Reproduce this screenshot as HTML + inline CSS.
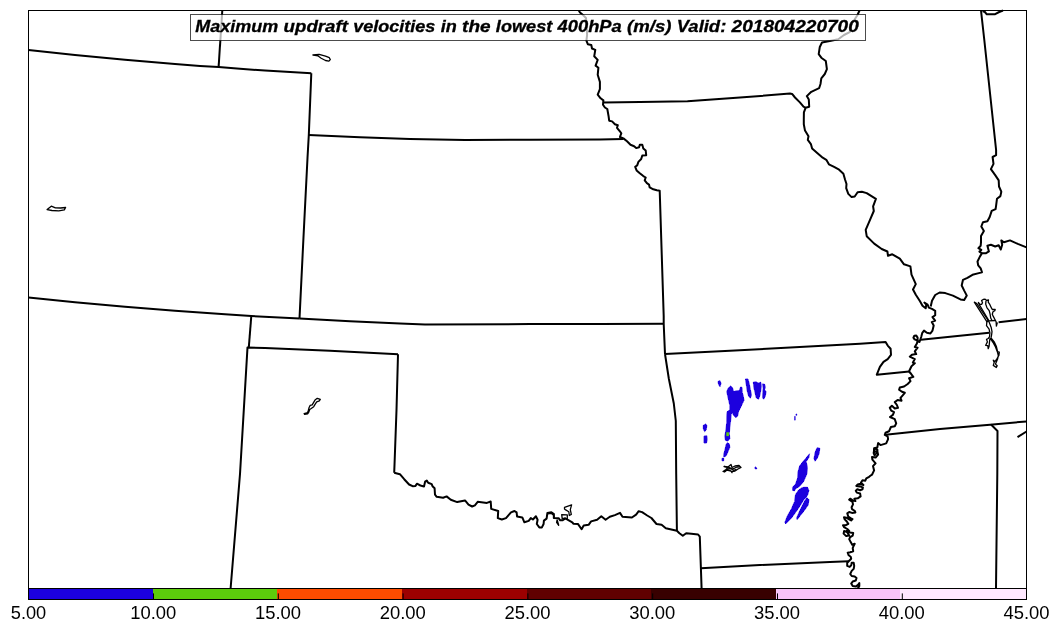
<!DOCTYPE html>
<html><head><meta charset="utf-8"><title>Maximum updraft velocities</title>
<style>
html,body{margin:0;padding:0;background:#fff;}
body{width:1060px;height:633px;position:relative;overflow:hidden;font-family:"Liberation Sans",sans-serif;}
</style></head><body>
<svg width="1060" height="633" viewBox="0 0 1060 633" style="position:absolute;left:0;top:0;will-change:transform">
<rect x="0" y="0" width="1060" height="633" fill="#fff"/>
<g fill="#1c00de" stroke="#1c00de" stroke-width="0.7" stroke-linejoin="round" shape-rendering="crispEdges">
<path d="M718.0,381.5 L720.0,380.6 L721.0,383.4 L720.0,386.8 L718.5,384.4Z"/>
<path d="M730.7,386.0 L732.4,387.4 L733.6,391.7 L735.9,390.9 L739.3,390.5 L740.6,387.0 L742.0,387.4 L742.3,392.6 L743.3,396.1 L744.0,400.4 L742.3,403.9 L740.6,407.4 L738.5,411.7 L737.6,416.1 L735.9,417.8 L733.6,415.6 L732.4,412.6 L731.2,414.3 L730.7,420.4 L729.8,427.4 L729.4,433.5 L729.8,438.7 L728.0,441.0 L725.4,440.4 L724.9,436.1 L726.0,429.1 L726.7,422.2 L726.8,415.2 L727.2,411.7 L729.8,409.7 L729.8,405.7 L728.9,401.3 L727.7,396.1 L726.8,391.7 L728.0,388.3Z"/>
<path d="M727.2,442.7 L729.4,443.9 L729.8,447.4 L728.0,451.7 L726.0,456.1 L723.7,457.0 L723.7,454.3 L724.9,450.0 L726.0,444.8Z"/>
<path d="M722.0,458.3 L723.7,458.3 L723.7,460.8 L722.0,460.8Z"/>
<path d="M745.4,379.0 L748.0,379.0 L749.3,383.9 L750.3,389.1 L751.5,395.2 L750.3,398.2 L748.6,396.1 L747.2,390.9 L746.3,384.8Z"/>
<path d="M753.3,382.2 L755.9,381.8 L758.5,383.0 L760.7,382.2 L761.4,385.7 L760.7,390.9 L759.7,396.1 L758.5,399.2 L756.2,397.8 L755.0,392.6 L753.8,387.4Z"/>
<path d="M762.5,383.9 L764.6,384.3 L765.4,387.4 L764.6,389.5 L766.0,391.7 L765.4,396.1 L763.7,399.2 L762.5,397.8 L762.8,392.6 L763.2,388.3Z"/>
<path d="M703.3,425.3 L705.8,423.9 L706.8,425.7 L706.3,430.0 L704.6,431.7 L703.3,429.1Z"/>
<path d="M704.0,436.1 L706.8,435.7 L707.2,439.6 L706.5,443.0 L704.0,443.0Z"/>
<path d="M755.0,467.0 L756.0,467.0 L756.9,468.8 L755.0,468.8Z"/>
<path d="M794.5,416.4 L795.3,416.4 L795.3,420.1 L794.5,420.1Z"/>
<path d="M796.0,414.0 L796.7,414.0 L796.7,415.4 L796.0,415.4Z"/>
<path d="M817.1,447.7 L819.8,448.3 L819.2,453.4 L817.1,458.6 L815.1,461.2 L814.0,458.6 L815.1,452.4Z"/>
<path d="M809.5,453.8 L808.9,457.5 L806.2,461.6 L807.5,467.8 L806.8,474.0 L803.8,481.2 L799.7,486.3 L795.5,488.8 L794.5,490.8 L792.5,490.4 L792.5,487.3 L795.5,484.2 L797.6,478.1 L798.0,471.9 L799.7,465.8 L803.8,460.6 L806.8,457.1Z"/>
<path d="M803.8,487.3 L807.5,487.3 L808.9,490.4 L807.5,495.5 L803.8,499.7 L800.7,504.8 L796.6,511.0 L791.4,518.1 L785.7,523.9 L784.9,522.3 L787.3,516.1 L791.4,508.9 L794.5,501.7 L795.5,494.5 L798.6,490.0 L801.7,487.9Z"/>
<path d="M806.8,497.6 L808.9,499.7 L808.3,504.8 L804.8,509.9 L800.7,515.1 L797.2,519.6 L796.6,518.1 L799.2,512.0 L802.7,504.8 L805.4,499.7Z"/>
</g>
<rect x="726.3" y="432.3" width="2.6" height="3.8" fill="#5ccc0c"/>
<g fill="none" stroke="#000" stroke-width="2" stroke-linejoin="round" stroke-linecap="butt">
<path d="M28.5,49.9 L75.0,54.9 L125.0,59.7 L175.0,64.1 L200.0,65.9 L218.6,66.9 L240.0,68.7 L265.0,70.6 L311.3,73.2"/>
<path d="M222.3,10.5 L218.6,66.9"/>
<path d="M311.3,73.2 L308.8,135.0 L307.5,158.0 L303.5,237.0 L299.5,318.6"/>
<path d="M308.8,135.0 L360.0,137.3 L410.0,139.0 L465.0,140.0 L530.0,139.7 L600.0,139.5 L623.4,139.1"/>
<path d="M28.5,297.5 L75.0,302.3 L125.0,306.8 L175.0,310.8 L225.0,314.2 L251.3,316.0 L299.5,318.6"/>
<path d="M299.5,318.6 L350.0,321.2 L400.0,323.5 L425.0,324.4 L530.0,324.1 L600.0,324.0 L663.7,323.8"/>
<path d="M251.3,316.0 L248.8,347.4"/>
<path d="M398.0,354.3 L330.0,350.8 L265.0,348.1 L247.5,347.4 L240.0,474.0 L230.6,588.5"/>
<path d="M398.0,354.3 L396.5,410.0 L394.5,465.0 L394.2,472.8"/>
<path d="M394.2,472.8 L399.9,474.2 L404.2,479.2 L409.1,484.5 L412.6,486.2 L415.5,485.9 L416.9,483.7 L420.4,485.5 L424.0,486.5 L425.1,481.7 L426.8,480.6 L428.2,482.7 L431.7,484.1 L432.5,486.2 L434.6,488.3 L435.0,494.7 L436.7,496.8 L443.1,497.8 L446.6,496.4 L450.8,499.7 L457.2,502.1 L465.0,500.4 L468.5,504.6 L472.1,506.5 L474.9,505.3 L477.7,501.8 L486.9,502.9 L490.7,501.5 L491.2,508.9 L498.2,511.0 L497.8,518.1 L501.8,519.5 L506.0,518.1 L511.0,512.4 L514.5,511.0 L516.6,512.4 L517.1,516.6 L522.3,517.4 L524.4,522.3 L528.7,520.9 L530.8,518.1 L532.9,519.5 L535.9,516.3 L537.6,519.7 L536.8,524.0 L539.3,527.4 L541.9,527.4 L543.6,524.0 L543.9,520.6 L546.6,518.6 L547.4,513.0 L551.4,512.2 L553.9,514.0 L553.8,518.0 L558.6,518.2 L560.2,520.3 L562.7,520.3 L565.3,518.4 L568.8,520.3 L572.3,522.3 L573.3,523.7 L577.9,523.9 L581.6,529.2 L583.7,525.5 L588.6,524.8 L591.1,521.4 L597.1,519.7 L601.3,516.3 L605.6,519.7 L609.8,516.8 L614.9,515.1 L620.0,512.9 L622.5,516.8 L631.9,517.5 L636.1,514.6 L638.7,511.2 L642.1,512.1 L647.2,515.5 L651.4,518.0 L656.5,524.0 L661.6,524.8 L665.8,528.2 L676.9,530.8 L679.4,533.3 L682.8,535.8 L686.2,533.3 L691.3,533.8 L698.1,534.5 L699.8,536.7 L700.9,568.2 L701.6,588.5"/>
<path d="M578.8,10.5 L580.0,12.5 L583.0,15.0 L586.0,18.0 L586.6,25.0 L587.1,35.0 L586.4,40.7 L587.8,44.2 L591.3,45.0 L592.0,48.5 L595.3,49.9 L594.2,56.3 L597.7,59.9 L595.6,65.6 L598.4,67.7 L597.7,74.8 L599.9,81.9 L599.9,89.1 L597.7,94.7 L600.6,98.3 L603.4,100.4 L603.0,104.7 L604.9,107.5 L607.3,109.0 L608.5,115.7 L609.2,120.7 L612.1,121.4 L614.9,124.2 L617.8,125.3 L617.0,127.8 L619.9,131.3 L621.3,133.4 L619.9,137.0 L623.4,138.4 L627.0,141.3 L630.5,144.8 L634.1,146.2 L636.2,148.1 L639.1,147.2 L639.8,144.8 L642.3,144.8 L643.3,148.4 L645.7,150.5 L646.2,155.2 L642.3,155.5 L641.2,159.0 L638.4,161.9 L637.2,165.4 L635.2,166.8 L636.6,170.4 L639.8,173.2 L643.3,176.1 L645.7,177.5 L644.7,180.3 L646.9,183.2 L649.0,184.6 L649.7,187.4 L653.3,189.3 L656.8,190.3 L659.7,190.7 L660.0,199.8 L663.7,316.0 L663.7,323.8 L665.0,354.0"/>
<path d="M603.2,102.5 L640.0,102.0 L687.5,101.2 L740.0,97.6 L790.0,93.6 L792.1,93.9 L795.0,97.5 L799.9,102.4 L803.5,106.7 L805.6,107.8"/>
<path d="M859.5,10.5 L857.5,15.0 L851.0,25.0 L849.7,32.1 L844.0,35.0 L838.3,39.2 L829.8,41.1 L822.0,42.5 L819.8,47.0 L818.7,54.1 L821.3,57.7 L825.8,61.0 L826.9,69.1 L824.8,74.0 L821.3,78.3 L820.5,84.0 L819.1,88.2 L811.3,91.8 L806.8,96.1 L808.8,99.6 L809.2,106.7 L805.6,107.8 L803.9,112.4 L803.8,119.8 L803.8,124.2 L805.0,130.6 L808.5,136.3 L807.8,139.9 L810.9,144.1 L812.1,148.4 L817.8,153.4 L822.7,157.7 L826.3,159.8 L828.9,164.3 L834.1,166.9 L839.1,169.7 L843.4,173.7 L845.1,179.7 L846.5,184.0 L846.2,188.2 L848.3,193.9 L851.6,197.1 L854.7,196.5 L857.6,192.2 L861.9,191.8 L866.7,193.1 L875.9,198.9 L873.1,206.3 L873.8,211.0 L869.9,220.2 L865.7,229.8 L866.7,236.2 L874.2,243.6 L881.7,249.0 L887.4,251.5 L888.0,255.8 L892.3,254.3 L899.8,258.6 L904.0,264.3 L910.4,266.4 L911.5,274.6 L915.8,284.1 L913.0,289.5 L915.8,294.8 L920.0,301.2 L922.5,305.7 L925.7,308.3 L926.3,304.5 L924.4,302.6 L927.6,304.5 L928.8,307.6 L932.0,308.9 L935.2,310.8 L935.2,315.2 L932.5,317.1 L935.1,320.7 L931.8,322.1 L933.7,325.6 L932.5,330.6 L930.4,333.5 L926.9,332.8 L924.0,330.6 L922.3,332.8 L921.2,337.0 L919.5,342.0 L917.6,340.6 L917.6,337.6 L916.3,335.6 L914.3,335.8 L913.4,337.6 L914.6,339.4 L917.6,340.6 L916.9,343.4 L914.8,347.0 L917.6,347.7 L914.8,351.3 L916.2,354.1 L911.9,354.8 L909.8,356.7 L914.8,359.1 L912.9,362.6 L914.8,363.3 L911.5,366.2 L909.8,369.7 L909.1,371.5 L911.2,374.0 L913.3,376.9 L909.1,378.3 L910.5,381.1 L907.7,384.0 L904.1,386.5 L899.8,387.5 L899.1,389.7 L902.0,391.8 L904.8,392.8 L902.7,395.3 L900.5,397.8 L901.5,400.7 L897.6,400.0 L894.8,402.1 L896.9,405.0 L898.0,407.8 L894.8,408.5 L891.9,405.7 L889.8,407.8 L891.2,410.6 L894.0,412.1 L892.9,414.9 L890.0,417.0 L894.8,419.2 L896.2,423.4 L894.8,426.3 L890.9,427.0 L889.0,431.3 L885.5,432.7 L884.8,434.8 L887.6,436.3 L888.1,439.1 L886.2,443.4 L880.5,445.1 L878.1,443.1 L877.3,447.6 L874.1,448.3 L873.9,451.9 L877.3,451.2 L878.1,454.7 L875.6,457.6 L872.0,456.9 L872.4,459.7 L875.6,463.3 L873.0,466.1 L874.1,470.4 L872.0,474.7 L870.0,476.0 L869.1,476.9 L866.3,478.4 L865.3,480.7 L862.5,480.3 L861.0,482.6 L863.4,485.0 L859.6,484.0 L857.7,484.5 L856.3,485.9 L859.6,486.4 L862.9,487.4 L862.5,489.3 L860.1,490.2 L857.3,489.3 L855.8,490.7 L856.8,492.6 L860.1,493.5 L860.6,496.4 L857.7,498.3 L854.4,498.7 L855.4,501.1 L853.0,500.6 L850.2,498.7 L849.2,499.7 L852.5,502.0 L853.0,504.4 L851.6,507.3 L852.0,509.1 L854.9,511.0 L855.4,512.5 L852.0,512.9 L849.2,512.0 L847.3,513.4 L848.3,516.7 L850.6,518.1 L852.5,519.1 L851.1,520.5 L848.7,519.1 L846.4,517.7 L844.0,517.2 L844.5,519.1 L846.8,521.5 L848.3,523.8 L845.9,525.2 L843.0,525.2 L844.0,527.1 L847.3,529.0 L849.2,530.9 L846.4,531.9 L844.1,531.0 L843.6,533.6 L846.2,536.1 L849.2,535.6 L847.7,533.1 L846.7,531.0 L850.2,532.5 L853.2,533.1 L852.7,535.6 L850.2,537.1 L849.2,539.1 L850.7,542.1 L852.2,544.7 L854.7,543.7 L853.7,545.7 L852.7,548.2 L853.2,551.2 L850.2,552.2 L847.7,552.7 L848.7,555.3 L850.7,556.8 L851.2,558.8 L849.2,560.8 L847.2,562.8 L847.2,565.9 L849.7,566.9 L851.2,565.4 L851.7,562.8 L853.7,562.8 L854.2,565.9 L853.7,568.9 L851.7,570.9 L850.2,574.0 L851.7,576.0 L854.7,576.5 L856.5,578.0 L855.8,580.5 L852.7,581.5 L851.2,583.6 L852.7,586.1 L855.8,586.6 L858.3,584.6 L859.3,583.1 L859.3,586.1 L857.8,588.4"/>
<path d="M875.5,448.0 L877.5,450.0 L876.6,453.0 L874.6,455.5 L873.6,453.0 L874.5,450.0 L875.5,448.0"/>
<path d="M930.7,306.5 L932.0,300.7 L935.2,295.0 L939.6,292.5 L945.3,293.1 L952.9,295.6 L960.5,299.4 L964.2,300.1 L966.8,295.6 L964.2,290.6 L961.7,285.5 L963.0,279.8 L967.4,277.9 L972.5,274.8 L978.8,273.1 L982.0,272.2 L980.7,268.4 L978.2,265.3 L977.5,261.5 L980.0,256.4 L982.0,253.3 L985.7,253.3 L988.9,251.4 L987.4,245.7 L990.9,244.8 L995.2,246.5 L998.7,245.3 L1000.8,249.5 L1002.2,244.8 L1001.3,240.4 L1003.9,242.2 L1010.0,240.4 L1017.8,243.9 L1026.5,247.4"/>
<path d="M981.0,10.5 L984.3,40.0 L996.1,150.0 L996.1,155.2 L992.6,157.0 L993.5,163.9 L990.9,169.1 L995.2,175.2 L998.7,180.4 L999.0,186.5 L1001.3,191.7 L1000.4,196.1 L997.0,198.7 L996.1,205.7 L995.6,209.1 L991.7,210.9 L989.7,217.0 L987.4,221.3 L983.0,222.2 L981.3,226.5 L983.9,230.9 L981.0,236.1 L981.0,242.2 L980.7,245.7 L978.4,248.2 L981.3,249.9 L979.4,251.6 L982.0,253.3"/>
<path d="M982.6,11.0 L984.9,12.0 L986.8,14.3 L994.7,14.3 L999.2,12.0 L1003.0,10.5"/>
<path d="M665.0,354.0 L730.0,350.8 L795.0,347.3 L860.0,343.7 L885.6,342.0 L887.7,345.6 L890.6,348.7 L891.0,354.8 L887.7,359.1 L883.5,361.9 L879.9,366.9 L876.8,374.7 L909.1,371.5"/>
<path d="M665.0,354.0 L668.8,378.5 L673.8,403.5 L675.8,421.0 L676.2,474.0 L676.9,530.8"/>
<path d="M700.9,568.2 L760.0,565.0 L830.0,562.1 L848.7,561.3"/>
<path d="M921.0,339.7 L955.0,336.3 L989.2,332.7"/>
<path d="M998.6,322.2 L1026.5,318.9"/>
<path d="M885.5,434.8 L940.0,429.1 L990.0,424.7 L1026.5,421.4"/>
<path d="M991.0,424.6 L992.5,426.0 L997.5,431.0 L997.3,474.0 L996.0,588.5"/>
<path d="M1017.5,437.2 L1026.5,431.5"/>
</g>
<g fill="none" stroke="#000" stroke-width="1.3" stroke-linejoin="round">
<path d="M312.9,55.0 L319.1,54.3 L325.5,56.2 L329.3,57.7 L330.3,59.6 L328.9,61.1 L325.5,60.5 L321.2,58.2 L317.8,55.8 L314.9,55.4Z"/>
<path d="M47.1,209.6 L51.3,206.2 L55.4,207.9 L60.5,208.0 L65.6,207.5 L64.3,209.9 L58.8,210.9 L52.0,210.5Z"/>
<path d="M304.1,413.5 L307.6,412.5 L308.4,410.2 L309.2,407.2 L310.2,405.4 L312.2,404.9 L313.5,402.6 L315.0,400.1 L317.3,398.3 L320.3,399.4 L319.3,400.9 L316.7,401.9 L315.2,404.2 L313.7,406.7 L311.2,408.5 L309.7,409.5 L308.7,412.3 L307.6,413.8 L304.6,414.3Z"/>
<path d="M564.5,507.4 L571.6,504.8 L570.3,509.6 L571.3,514.4 L569.3,515.5 L568.8,511.7 L565.7,509.9 L564.5,508.9Z"/>
<path d="M561.7,514.7 L567.3,514.9 L567.3,519.2 L564.7,518.2 L562.2,518.7Z"/>
<path d="M557.1,519.8 L558.7,525.3 L556.6,522.3Z"/>
<path d="M547.6,513.8 L551.4,513.4 L553.6,515.2 L554.4,517.6"/>
<path d="M724.0,466.5 L728.0,467.0 L731.0,464.5 L732.0,467.5 L735.0,466.0 L739.0,465.5 L741.0,467.5 L738.0,469.0 L735.0,471.0 L732.0,471.5 L732.0,472.7 L731.0,471.0 L727.0,470.0 L724.5,472.0 L723.0,471.5 L726.0,469.5 L728.0,467.5Z"/>
<path d="M725.0,471.0 L729.0,468.6 L733.0,468.8 L737.0,467.0 L740.0,466.8"/>
<path d="M727.5,466.8 L730.5,468.0 L733.5,470.3 L736.5,469.5"/>
<path d="M974.3,302.2 L987.0,321.8 L988.2,320.5 L976.8,303.5Z"/>
<path d="M988.8,320.5 L979.1,304.4 L978.4,302.5 L979.7,304.1 L981.6,304.4 L982.5,302.8 L981.6,300.6 L983.2,299.4 L985.1,299.1 L986.3,300.3 L988.5,300.0 L988.2,302.2 L989.8,304.4 L991.4,307.9 L992.3,309.5 L995.2,309.5 L994.8,310.7 L993.0,311.7 L992.3,314.2 L993.3,316.4 L994.8,319.3 L996.1,321.8 L996.4,326.2 L997.4,322.4"/>
<path d="M986.0,300.9 L985.7,304.1 L987.0,307.9 L989.2,310.7 L990.1,314.2 L990.7,318.0 L992.0,320.5"/>
<path d="M988.8,320.8 L995.2,320.5"/>
<path d="M986.9,321.4 L986.5,325.7 L989.1,329.1 L989.9,332.9 L989.5,336.8 L988.2,338.5 L986.5,339.3 L987.4,341.9 L985.7,345.3 L987.8,345.7 L988.2,348.7 L989.1,346.2 L989.5,341.9 L989.9,338.9 L991.2,338.1 L994.2,341.9 L996.3,346.2 L997.6,351.7 L999.3,352.1 L998.9,355.5 L996.7,359.0 L995.0,361.5 L993.3,360.2 L994.2,362.4 L993.3,365.4 L996.3,367.5 L997.2,365.8 L995.5,364.1 L997.6,359.0 L998.3,355.5 L997.6,352.6 L995.5,347.0 L992.9,342.3 L990.8,339.2 L991.6,335.0 L992.0,331.6 L991.2,327.4 L989.5,323.1 L988.5,320.8Z"/>
</g>
<rect x="28.50" y="588.5" width="124.50" height="11.0" fill="#1c00de" shape-rendering="crispEdges"/>
<rect x="153.00" y="588.5" width="124.00" height="11.0" fill="#5ccc0c" shape-rendering="crispEdges"/>
<rect x="277.00" y="588.5" width="125.00" height="11.0" fill="#fc4c00" shape-rendering="crispEdges"/>
<rect x="402.00" y="588.5" width="125.00" height="11.0" fill="#9c0000" shape-rendering="crispEdges"/>
<rect x="527.00" y="588.5" width="124.00" height="11.0" fill="#600000" shape-rendering="crispEdges"/>
<rect x="651.00" y="588.5" width="125.00" height="11.0" fill="#380000" shape-rendering="crispEdges"/>
<rect x="776.00" y="588.5" width="124.00" height="11.0" fill="#f8c4f8" shape-rendering="crispEdges"/>
<rect x="900.00" y="588.5" width="126.50" height="11.0" fill="#ffe8ff" shape-rendering="crispEdges"/>
<line x1="153.50" y1="593.4" x2="153.50" y2="599.5" stroke="#000" stroke-width="1"/>
<line x1="278.30" y1="593.4" x2="278.30" y2="599.5" stroke="#000" stroke-width="1"/>
<line x1="403.10" y1="593.4" x2="403.10" y2="599.5" stroke="#000" stroke-width="1"/>
<line x1="527.90" y1="593.4" x2="527.90" y2="599.5" stroke="#000" stroke-width="1"/>
<line x1="652.70" y1="593.4" x2="652.70" y2="599.5" stroke="#000" stroke-width="1"/>
<line x1="777.50" y1="593.4" x2="777.50" y2="599.5" stroke="#000" stroke-width="1"/>
<line x1="902.30" y1="593.4" x2="902.30" y2="599.5" stroke="#000" stroke-width="1"/>
<rect x="28.5" y="10.5" width="998.0" height="578.0" fill="none" stroke="#000" stroke-width="1"/>
<rect x="28.5" y="588.5" width="998.0" height="11.0" fill="none" stroke="#000" stroke-width="1"/>
<rect x="190.5" y="14.5" width="675" height="26" fill="#fff" fill-opacity="0.7" stroke="#000" stroke-opacity="0.7" stroke-width="1"/>
<text y="31.7" font-family="'Liberation Sans', sans-serif" font-weight="bold" font-style="italic" font-size="16.4" fill="#000" stroke="#000" stroke-width="0.3"><tspan x="195.18" textLength="83.10" lengthAdjust="spacingAndGlyphs">Maximum</tspan> <tspan x="283.59" textLength="64.37" lengthAdjust="spacingAndGlyphs">updraft</tspan> <tspan x="353.27" textLength="82.13" lengthAdjust="spacingAndGlyphs">velocities</tspan> <tspan x="440.70" textLength="16.07" lengthAdjust="spacingAndGlyphs">in</tspan> <tspan x="462.08" textLength="28.47" lengthAdjust="spacingAndGlyphs">the</tspan> <tspan x="495.85" textLength="56.46" lengthAdjust="spacingAndGlyphs">lowest</tspan> <tspan x="557.62" textLength="64.10" lengthAdjust="spacingAndGlyphs">400hPa</tspan> <tspan x="627.03" textLength="44.44" lengthAdjust="spacingAndGlyphs">(m/s)</tspan> <tspan x="676.78" textLength="49.52" lengthAdjust="spacingAndGlyphs">Valid:</tspan> <tspan x="731.60" textLength="127.23" lengthAdjust="spacingAndGlyphs">201804220700</tspan></text>
<text x="10.75" y="619" font-family="'Liberation Sans', sans-serif" font-size="17.8" textLength="35.5" lengthAdjust="spacingAndGlyphs" fill="#000">5.00</text>
<text x="130.20" y="619" font-family="'Liberation Sans', sans-serif" font-size="17.8" textLength="46.1" lengthAdjust="spacingAndGlyphs" fill="#000">10.00</text>
<text x="254.95" y="619" font-family="'Liberation Sans', sans-serif" font-size="17.8" textLength="46.1" lengthAdjust="spacingAndGlyphs" fill="#000">15.00</text>
<text x="379.70" y="619" font-family="'Liberation Sans', sans-serif" font-size="17.8" textLength="46.1" lengthAdjust="spacingAndGlyphs" fill="#000">20.00</text>
<text x="504.45" y="619" font-family="'Liberation Sans', sans-serif" font-size="17.8" textLength="46.1" lengthAdjust="spacingAndGlyphs" fill="#000">25.00</text>
<text x="629.20" y="619" font-family="'Liberation Sans', sans-serif" font-size="17.8" textLength="46.1" lengthAdjust="spacingAndGlyphs" fill="#000">30.00</text>
<text x="753.95" y="619" font-family="'Liberation Sans', sans-serif" font-size="17.8" textLength="46.1" lengthAdjust="spacingAndGlyphs" fill="#000">35.00</text>
<text x="878.70" y="619" font-family="'Liberation Sans', sans-serif" font-size="17.8" textLength="46.1" lengthAdjust="spacingAndGlyphs" fill="#000">40.00</text>
<text x="1003.45" y="619" font-family="'Liberation Sans', sans-serif" font-size="17.8" textLength="46.1" lengthAdjust="spacingAndGlyphs" fill="#000">45.00</text>
</svg>
</body></html>
